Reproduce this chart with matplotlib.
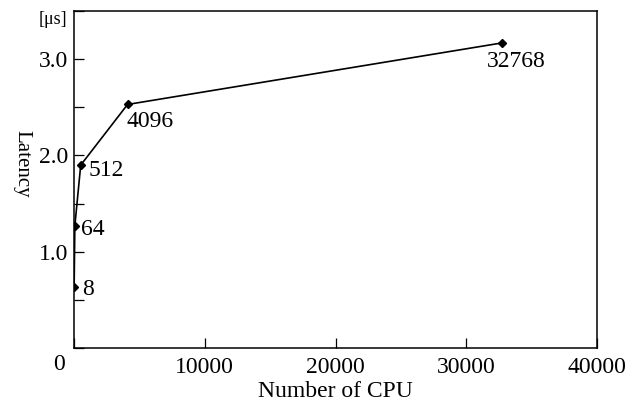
import matplotlib
matplotlib.use('Agg')
import matplotlib.pyplot as plt
from matplotlib.ticker import MultipleLocator

plt.rcParams.update({
    'font.family': ['Liberation Serif', 'DejaVu Serif'],
    'font.size': 17,
})

# data
cpus = [8, 64, 512, 4096, 32768]
latency = [0.63, 1.27, 1.90, 2.53, 3.17]
labels = ['8', '64', '512', '4096', '32768']
# label offsets in points (dx, dy) and alignment
offsets = [(6, 0), (4.5, -1), (6, -2), (-1, -4.5), (-11.5, -6)]
aligns = [('left', 'center_baseline'), ('left', 'center_baseline'),
          ('left', 'center_baseline'), ('left', 'top'), ('left', 'top')]

fig = plt.figure(figsize=(6.37, 4.03), dpi=100)
ax = fig.add_axes([0.1162, 0.1365, 0.821, 0.836])

ax.plot(cpus, latency, color='black', lw=1.2, marker='D', ms=4,
        markerfacecolor='black', markeredgecolor='black')

for x, y, lab, (dx, dy), (ha, va) in zip(cpus, latency, labels, offsets, aligns):
    ax.annotate(lab, (x, y), xytext=(dx, dy), textcoords='offset points',
                ha=ha, va=va, fontsize=17)

ax.set_xlim(0, 40000)
ax.set_ylim(0, 3.5)
ax.set_xticks([0, 10000, 20000, 30000, 40000])
ax.set_xticklabels(['', '10000', '20000', '30000', '40000'])
ax.set_yticks([1.0, 2.0, 3.0])
ax.set_yticklabels(['1.0', '2.0', '3.0'])
ax.yaxis.set_minor_locator(MultipleLocator(0.5))
ax.tick_params(axis='both', which='both', direction='in', length=7, width=0.9)
ax.tick_params(axis='x', pad=6.5)
ax.tick_params(axis='y', pad=4.3)

for s in ax.spines.values():
    s.set_linewidth(1.1)

# shared origin label
ax.text(-0.0287, -0.043, '0', transform=ax.transAxes, ha='center',
        va='center_baseline', fontsize=17)

ax.set_xlabel('Number of CPU', fontsize=17, va='baseline')
ax.xaxis.set_label_coords(0.5, -0.1445)
ax.set_ylabel('Latency', fontsize=15, rotation=-90, va='center', ha='center')
ax.yaxis.set_label_coords(-0.0994, 0.547)
ax.text(-0.012, 1.0, '[μs]', transform=ax.transAxes, ha='right', va='top',
        fontsize=13)

fig.savefig('out.png', dpi=100, facecolor='white')
